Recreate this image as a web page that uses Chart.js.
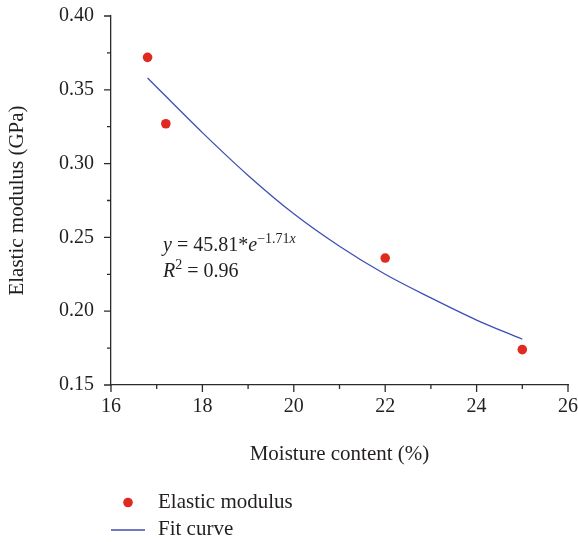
<!DOCTYPE html>
<html>
<head>
<meta charset="utf-8">
<script src="https://cdn.jsdelivr.net/npm/chart.js@4"></script>
<style>
  html, body { margin: 0; padding: 0; background: #fff; }
  canvas { display: block; }
</style>
</head>
<body>
<canvas id="grafico" width="578" height="542"></canvas>
<script>
// datos medidos
const moistureContent = [16.8, 17.2, 22.0, 25.0];
const elasticModulus = [0.372, 0.327, 0.236, 0.174];

// curva de ajuste
const fitX = [16.8, 18, 19, 20, 21, 22, 23, 24, 25];
const fitY = [0.358, 0.321, 0.292, 0.266, 0.244, 0.225, 0.209, 0.194, 0.181];

const xTickLabels = [16, 18, 20, 22, 24, 26];
const yTickLabels = [0.15, 0.20, 0.25, 0.30, 0.35, 0.40];

const seriesNames = ['Elastic modulus', 'Fit curve'];

const textColor = '#231f20';
const axisColor = '#2b2b2b';
const serif = "'Liberation Serif', 'Times New Roman', serif";

const isMajorX = (v) => xTickLabels.some((t) => Math.abs(t - v) < 1e-6);
const isMajorY = (v) => yTickLabels.some((t) => Math.abs(t - v) < 1e-6);

// marcas de los ejes (mayores y menores, hacia afuera)
const marcasEjes = {
  id: 'marcasEjes',
  afterDraw(chart) {
    const { ctx, scales: { x, y }, chartArea } = chart;
    ctx.save();
    ctx.strokeStyle = axisColor;
    ctx.lineWidth = 1.3;
    ctx.beginPath();
    x.ticks.forEach((t) => {
      const px = x.getPixelForValue(t.value);
      const len = isMajorX(t.value) ? 7 : 4;
      ctx.moveTo(px, chartArea.bottom);
      ctx.lineTo(px, chartArea.bottom + len);
    });
    y.ticks.forEach((t) => {
      const py = y.getPixelForValue(t.value);
      const len = isMajorY(t.value) ? 7 : 4;
      ctx.moveTo(chartArea.left, py);
      ctx.lineTo(chartArea.left - len, py);
    });
    ctx.stroke();
    ctx.restore();
  }
};

// ecuacion del ajuste
const ecuacion = {
  id: 'ecuacion',
  afterDraw(chart) {
    const { ctx, scales: { x, y } } = chart;
    const x0 = x.getPixelForValue(17.14);
    const b1 = y.getPixelForValue(0.2405);
    const b2 = y.getPixelForValue(0.2230);
    const normal = `20px ${serif}`;
    const italic = `italic 20px ${serif}`;
    const small = `14px ${serif}`;
    const smallItalic = `italic 14px ${serif}`;
    ctx.save();
    ctx.fillStyle = textColor;
    ctx.textBaseline = 'alphabetic';
    ctx.textAlign = 'left';

    const piezas = (partes, base) => {
      let cx = x0;
      partes.forEach(([txt, font, dy]) => {
        ctx.font = font;
        ctx.fillText(txt, cx, base + dy);
        cx += ctx.measureText(txt).width;
      });
    };

    piezas([
      ['y', italic, 0],
      [' = 45.81*', normal, 0],
      ['e', italic, 0],
      ['\u22121.71', small, -8],
      ['x', smallItalic, -8]
    ], b1);
    piezas([
      ['R', italic, 0],
      ['2', small, -8],
      [' = 0.96', normal, 0]
    ], b2);
    ctx.restore();
  }
};

// leyenda vertical debajo del eje x
const leyenda = {
  id: 'leyenda',
  afterDraw(chart) {
    const { ctx, chartArea } = chart;
    const ds = chart.data.datasets;
    const left = chartArea.left;
    ctx.save();
    ctx.font = `21px ${serif}`;
    ctx.textBaseline = 'alphabetic';

    ctx.beginPath();
    ctx.fillStyle = ds[0].backgroundColor;
    ctx.arc(left + 17, 502.5, 4.8, 0, Math.PI * 2);
    ctx.fill();
    ctx.fillStyle = textColor;
    ctx.fillText(ds[0].label, left + 47, 508);

    ctx.beginPath();
    ctx.strokeStyle = ds[1].borderColor;
    ctx.lineWidth = ds[1].borderWidth;
    ctx.moveTo(left, 530);
    ctx.lineTo(left + 34, 530);
    ctx.stroke();
    ctx.fillText(ds[1].label, left + 47, 535);
    ctx.restore();
  }
};

const ctx = document.getElementById('grafico');

new Chart(ctx, {
  type: 'scatter',
  data: {
    datasets: [
      {
        label: seriesNames[0],
        data: moistureContent.map((v, i) => ({ x: v, y: elasticModulus[i] })),
        backgroundColor: '#df2a1f',
        borderWidth: 0,
        pointRadius: 4.8,
        order: 1
      },
      {
        label: seriesNames[1],
        data: fitX.map((v, i) => ({ x: v, y: fitY[i] })),
        showLine: true,
        borderColor: '#3d4fb5',
        borderWidth: 1.3,
        pointRadius: 0,
        cubicInterpolationMode: 'monotone',
        order: 2
      }
    ]
  },
  options: {
    responsive: false,
    animation: false,
    devicePixelRatio: 1,
    layout: {
      padding: { top: 16, right: 10, bottom: 70, left: 0 }
    },
    plugins: {
      legend: { display: false },
      tooltip: { enabled: false }
    },
    scales: {
      x: {
        type: 'linear',
        min: 16,
        max: 26,
        afterFit: (scale) => {
          scale.height = 87;
          scale.paddingLeft = 0;
          scale.paddingRight = 0;
        },
        grid: { display: false, drawTicks: false },
        border: { display: true, color: axisColor, width: 1.3 },
        ticks: {
          stepSize: 1,
          padding: 10,
          color: textColor,
          font: { family: serif, size: 20 },
          callback: (v) => (isMajorX(v) ? String(v) : '')
        },
        title: {
          display: true,
          text: 'Moisture content (%)',
          color: textColor,
          font: { family: serif, size: 21, lineHeight: 1.2 },
          padding: { top: 0, bottom: 5 }
        }
      },
      y: {
        type: 'linear',
        min: 0.15,
        max: 0.40,
        afterFit: (scale) => {
          scale.width = 111;
          scale.paddingTop = 0;
          scale.paddingBottom = 0;
        },
        grid: { display: false, drawTicks: false },
        border: { display: true, color: axisColor, width: 1.3 },
        ticks: {
          stepSize: 0.025,
          padding: 17,
          color: textColor,
          font: { family: serif, size: 20 },
          callback: (v) => (isMajorY(v) ? v.toFixed(2) : '')
        },
        title: {
          display: true,
          text: 'Elastic modulus (GPa)',
          color: textColor,
          font: { family: serif, size: 21, lineHeight: 1.2 },
          padding: { top: 5, bottom: 0 }
        }
      }
    }
  },
  plugins: [marcasEjes, ecuacion, leyenda]
});
</script>
</body>
</html>
